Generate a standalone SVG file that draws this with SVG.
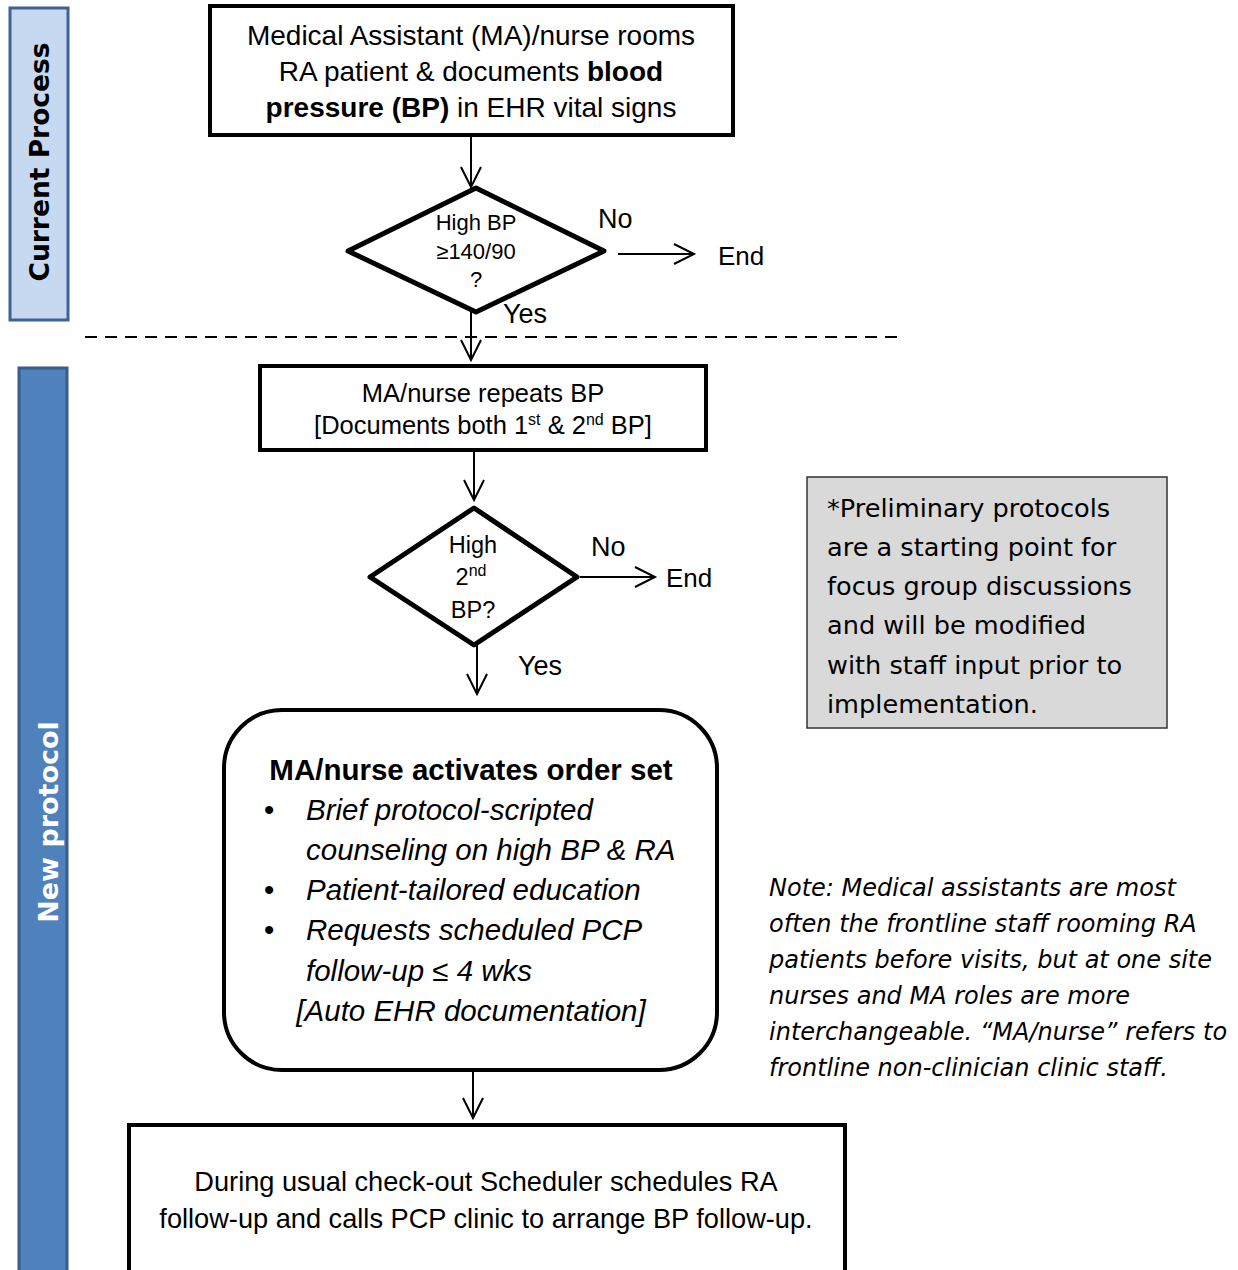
<svg xmlns="http://www.w3.org/2000/svg" width="1238" height="1270" viewBox="0 0 1238 1270">
<style>
.c{font-family:"Liberation Sans Narrow","Liberation Sans",Arial,sans-serif;fill:#000}
.v{font-family:"DejaVu Sans",Verdana,sans-serif;fill:#000}
.box{fill:#fff;stroke:#000;stroke-width:4}
.con{stroke:#000;stroke-width:2;fill:none}
</style>
<defs>
<marker id="a" markerUnits="userSpaceOnUse" markerWidth="30" markerHeight="30" refX="22" refY="12" orient="auto">
<path d="M2,2 L22,12 L2,22" fill="none" stroke="#000" stroke-width="2"/>
</marker>
</defs>
<rect width="1238" height="1270" fill="#fff"/>
<g id="lane-current">
<rect x="10" y="8" width="58" height="312" fill="#c6d9f1" stroke="#3e6392" stroke-width="3"/>
<text class="v" transform="translate(49,162) rotate(-90)" text-anchor="middle" font-size="26.5" font-weight="bold">Current Process</text>
</g>
<g id="lane-new">
<rect x="19" y="368" width="48" height="910" fill="#4f81bd" stroke="#385d8a" stroke-width="3"/>
<text class="v" transform="translate(58,822) rotate(-90)" text-anchor="middle" font-size="27" font-weight="bold" style="fill:#fff">New protocol</text>
</g>
<g id="divider">
<line x1="85" y1="337" x2="897" y2="337" stroke="#000" stroke-width="2" stroke-dasharray="12,8"/>
</g>
<g id="n1">
<rect class="box" x="210" y="6" width="523" height="129"/>
<text class="c" text-anchor="middle" font-size="28"><tspan x="471" y="45">Medical Assistant (MA)/nurse rooms</tspan><tspan x="471" y="81">RA patient &amp; documents <tspan font-weight="bold">blood</tspan></tspan><tspan x="471" y="117"><tspan font-weight="bold">pressure (BP)</tspan> in EHR vital signs</tspan></text>
</g>
<g id="d1">
<polygon points="476,188 604,251 476,312 348,251" fill="#fff" stroke="#000" stroke-width="5" stroke-linejoin="round"/>
<text class="c" text-anchor="middle" font-size="22"><tspan x="476" y="230">High BP</tspan><tspan x="476" y="259">≥140/90</tspan><tspan x="476" y="287">?</tspan></text>
</g>
<g id="end1"><text class="c" x="718" y="265" font-size="26">End</text></g>
<g id="n2">
<rect class="box" x="260" y="366" width="446" height="84"/>
<text class="c" text-anchor="middle" font-size="25.5"><tspan x="483" y="402">MA/nurse repeats BP</tspan><tspan x="483" y="434">[Documents both 1<tspan font-size="16" dy="-9">st</tspan><tspan dy="9"> &amp; 2</tspan><tspan font-size="16" dy="-9">nd</tspan><tspan dy="9"> BP]</tspan></tspan></text>
</g>
<g id="d2">
<polygon points="474,508 577,577 474,645 370,577" fill="#fff" stroke="#000" stroke-width="5" stroke-linejoin="round"/>
<text class="c" text-anchor="middle" font-size="23.5"><tspan x="473" y="553">High</tspan><tspan x="471" y="585">2<tspan font-size="16" dy="-9">nd</tspan></tspan><tspan x="473" y="618">BP?</tspan></text>
</g>
<g id="end2"><text class="c" x="666" y="587" font-size="26">End</text></g>
<g id="n3">
<rect class="box" x="224" y="710" width="493" height="360" rx="58"/>
<text class="c" x="471" y="780" text-anchor="middle" font-size="29.5" font-weight="bold">MA/nurse activates order set</text>
<g class="c" font-size="29.5" font-style="italic">
<text x="264" y="820" font-style="normal">•</text>
<text x="306" y="820">Brief protocol-scripted</text>
<text x="306" y="860">counseling on high BP &amp; RA</text>
<text x="264" y="900" font-style="normal">•</text>
<text x="306" y="900">Patient-tailored education</text>
<text x="264" y="940" font-style="normal">•</text>
<text x="306" y="940">Requests scheduled PCP</text>
<text x="306" y="981">follow-up ≤ 4 wks</text>
<text x="471" y="1021" text-anchor="middle">[Auto EHR documentation]</text>
</g>
</g>
<g id="n4">
<rect class="box" x="129" y="1125" width="716" height="160"/>
<text class="c" text-anchor="middle" font-size="27.2"><tspan x="486" y="1191">During usual check-out Scheduler schedules RA</tspan><tspan x="486" y="1228">follow-up and calls PCP clinic to arrange BP follow-up.</tspan></text>
</g>
<g id="prelim">
<rect x="807" y="477" width="360" height="251" fill="#d9d9d9" stroke="#333" stroke-width="1.5"/>
<text class="v" font-size="25.6"><tspan x="827" y="517">*Preliminary protocols</tspan><tspan x="827" y="556">are a starting point for</tspan><tspan x="827" y="595">focus group discussions</tspan><tspan x="827" y="634">and will be modified</tspan><tspan x="827" y="674">with staff input prior to</tspan><tspan x="827" y="713">implementation.</tspan></text>
</g>
<g id="note">
<text class="v" font-size="24" font-style="italic"><tspan x="769" y="896">Note: Medical assistants are most</tspan><tspan x="769" y="932">often the frontline staff rooming RA</tspan><tspan x="769" y="968">patients before visits, but at one site</tspan><tspan x="769" y="1004">nurses and MA roles are more</tspan><tspan x="769" y="1040">interchangeable. “MA/nurse” refers to</tspan><tspan x="769" y="1076">frontline non-clinician clinic staff.</tspan></text>
</g>
<g id="connectors">
<line class="con" x1="471" y1="135" x2="471" y2="187" marker-end="url(#a)"/>
<line class="con" x1="618" y1="254" x2="694" y2="254" marker-end="url(#a)"/>
<line class="con" x1="471" y1="312" x2="471" y2="360" marker-end="url(#a)"/>
<line class="con" x1="474" y1="450" x2="474" y2="500" marker-end="url(#a)"/>
<line class="con" x1="580" y1="577" x2="655" y2="577" marker-end="url(#a)"/>
<line class="con" x1="477" y1="645" x2="477" y2="694" marker-end="url(#a)"/>
<line class="con" x1="473" y1="1071" x2="473" y2="1118" marker-end="url(#a)"/>
</g>
<g id="labels" class="c" font-size="27">
<text x="598" y="228">No</text>
<text x="503" y="323">Yes</text>
<text x="591" y="556">No</text>
<text x="518" y="675">Yes</text>
</g>
</svg>
